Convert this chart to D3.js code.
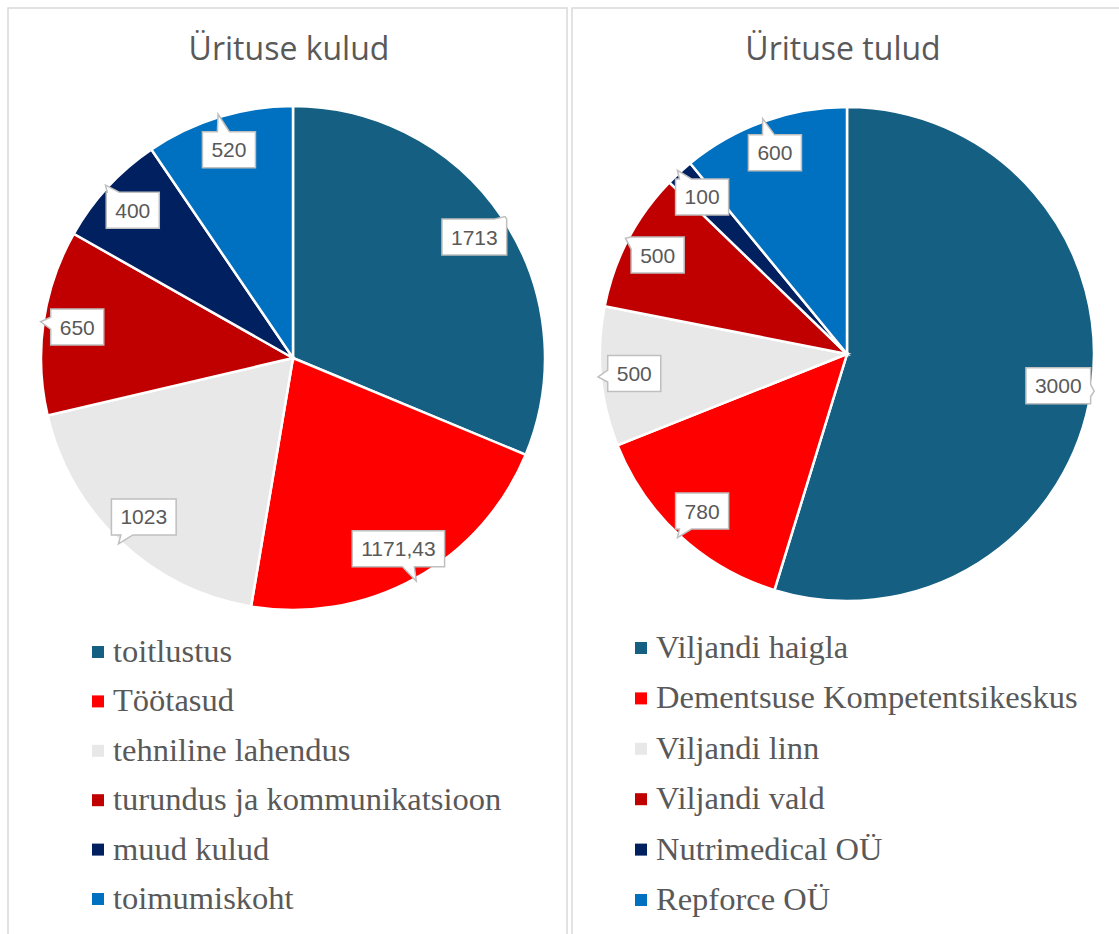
<!DOCTYPE html>
<html>
<head>
<meta charset="utf-8">
<script src="https://cdn.jsdelivr.net/npm/d3@7"></script>
<style>
  body { margin: 0; background: #fff; }
  svg { display: block; }
</style>
</head>
<body>
<svg id="chart" width="1119" height="934"></svg>
<script>
// --- data ---
const kuludCategories = ['toitlustus', 'Töötasud', 'tehniline lahendus', 'turundus ja kommunikatsioon', 'muud kulud', 'toimumiskoht'];
const kuludValues = [1713, 1171.43, 1023, 650, 400, 520];

const tuludCategories = ['Viljandi haigla', 'Dementsuse Kompetentsikeskus', 'Viljandi linn', 'Viljandi vald', 'Nutrimedical OÜ', 'Repforce OÜ'];
const tuludValues = [3000, 780, 500, 500, 100, 600];

const sliceColors = ['#156082', '#FF0000', '#E8E8E8', '#C00000', '#002060', '#0070C0'];

const svg = d3.select('#chart');
const textColor = '#595959';

// estonian number format: decimal comma, no grouping
const fmt = d3.formatLocale({ decimal: ',', thousands: ' ', grouping: [3], currency: ['', ''] }).format('.2~f');

const charts = [
  { title: 'Ürituse kulud', categories: kuludCategories, values: kuludValues,
    panel: [8, 8, 559, 960], cx: 293, cy: 358, r: 252,
    legendX: 92, legendY: 652, legendStep: 49.4 },
  { title: 'Ürituse tulud', categories: tuludCategories, values: tuludValues,
    panel: [572, 8, 600, 960], cx: 847, cy: 354, r: 247,
    legendX: 635, legendY: 648, legendStep: 50.4 }
];

charts.forEach(drawPie);

function drawPie(c) {
  // panel border
  svg.append('rect')
    .attr('x', c.panel[0]).attr('y', c.panel[1])
    .attr('width', c.panel[2]).attr('height', c.panel[3])
    .attr('fill', '#fff')
    .attr('stroke', '#d9d9d9')
    .attr('stroke-width', 1.5);

  svg.append('text')
    .attr('x', c.cx - 4).attr('y', 60)
    .attr('text-anchor', 'middle')
    .attr('font-family', '"Open Sans", sans-serif')
    .attr('font-size', 32)
    .attr('fill', textColor)
    .text(c.title);

  const pie = d3.pie().sort(null).value(d => d);
  const arcs = pie(c.values);
  const arc = d3.arc().innerRadius(0).outerRadius(c.r);
  const labelArc = d3.arc().innerRadius(c.r * 0.865).outerRadius(c.r * 0.865);
  const tipArc = d3.arc().innerRadius(c.r + 3).outerRadius(c.r + 3);

  const g = svg.append('g').attr('transform', `translate(${c.cx},${c.cy})`);

  g.selectAll('path.slice')
    .data(arcs)
    .enter().append('path')
    .attr('class', 'slice')
    .attr('d', arc)
    .attr('fill', (d, i) => sliceColors[i])
    .attr('stroke', '#fff')
    .attr('stroke-width', 2.5);

  // data labels with callout
  const labels = g.selectAll('g.label')
    .data(arcs)
    .enter().append('g')
    .attr('class', 'label');

  labels.each(function(d) {
    const lg = d3.select(this);
    const [lx, ly] = labelArc.centroid(d);
    const [tx, ty] = tipArc.centroid(d);
    const box = lg.append('path');
    const txt = lg.append('text')
      .attr('x', lx).attr('y', ly + 7.5)
      .attr('text-anchor', 'middle')
      .attr('font-family', '"Liberation Sans", Arial, sans-serif')
      .attr('font-size', 21)
      .attr('fill', textColor)
      .text(fmt(d.data));
    const w = txt.node().getComputedTextLength();
    const hw = w / 2 + 9, hh = 18;
    box.attr('d', calloutPath(lx, ly, hw, hh, tx, ty))
      .attr('fill', '#fff')
      .attr('stroke', '#bfbfbf')
      .attr('stroke-width', 1.5);
  });

  // legend
  const legend = svg.append('g');
  const items = legend.selectAll('g')
    .data(c.categories)
    .enter().append('g')
    .attr('transform', (d, i) => `translate(${c.legendX},${c.legendY + i * c.legendStep})`);

  items.append('rect')
    .attr('x', 0).attr('y', -6)
    .attr('width', 12).attr('height', 12)
    .attr('fill', (d, i) => sliceColors[i]);

  items.append('text')
    .attr('x', 21).attr('y', 10)
    .attr('font-family', '"Liberation Serif", "Times New Roman", serif')
    .attr('font-size', 32.5)
    .attr('fill', textColor)
    .text(d => d);
}

// box around (cx,cy) with a small pointer tab towards (tx,ty)
function calloutPath(cx, cy, hw, hh, tx, ty) {
  const x0 = cx - hw, x1 = cx + hw, y0 = cy - hh, y1 = cy + hh;
  const dx = tx - cx, dy = ty - cy;
  const b = 6;
  const clamp = (v, lo, hi) => Math.max(lo + b, Math.min(hi - b, v));
  let pts;
  if (Math.abs(dx) / hw > Math.abs(dy) / hh) {
    const by = clamp(cy + dy * (hw / Math.abs(dx)), y0, y1);
    if (dx > 0) {
      pts = [[x0, y0], [x1, y0], [x1, by - b], [tx, ty], [x1, by + b], [x1, y1], [x0, y1]];
    } else {
      pts = [[x0, y0], [x1, y0], [x1, y1], [x0, y1], [x0, by + b], [tx, ty], [x0, by - b]];
    }
  } else {
    const bx = clamp(cx + dx * (hh / Math.abs(dy)), x0, x1);
    if (dy < 0) {
      pts = [[x0, y0], [bx - b, y0], [tx, ty], [bx + b, y0], [x1, y0], [x1, y1], [x0, y1]];
    } else {
      pts = [[x0, y0], [x1, y0], [x1, y1], [bx + b, y1], [tx, ty], [bx - b, y1], [x0, y1]];
    }
  }
  return 'M' + pts.map(p => p.join(',')).join('L') + 'Z';
}
</script>
</body>
</html>
